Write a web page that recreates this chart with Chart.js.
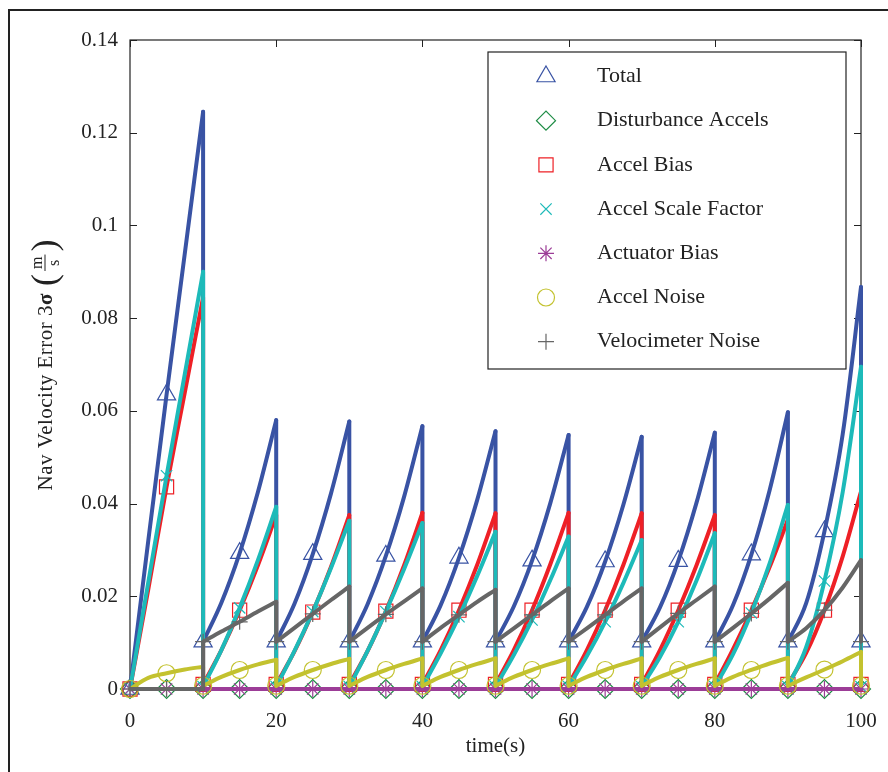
<!DOCTYPE html>
<html>
<head>
<meta charset="utf-8">
<script src="https://cdn.jsdelivr.net/npm/chart.js@4.4.1/dist/chart.umd.min.js"></script>
<style>
    html, body { margin: 0; padding: 0; background: #fff; }
</style>
</head>
<body>
<canvas id="navChart" width="888" height="772"></canvas>
<script>
// Each series is a sawtooth that resets every 10 s.
// One row per interval, values read at offsets 0, 2.5, 5, 7.5, 10 s into it.
const segStarts = [0, 10, 20, 30, 40, 50, 60, 70, 80, 90];
const offsets = [0, 2.5, 5, 7.5, 10];
const xTicks = [0, 20, 40, 60, 80, 100];
const yTicks = [0, 0.02, 0.04, 0.06, 0.08, 0.1, 0.12, 0.14];

const totalSegs = [
    [0, 0.032, 0.0635, 0.094, 0.1245],
    [0.0102, 0.0186, 0.0293, 0.0425, 0.0580],
    [0.0102, 0.0184, 0.0291, 0.0422, 0.0577],
    [0.0102, 0.0183, 0.0287, 0.0415, 0.0567],
    [0.0102, 0.0181, 0.0283, 0.0408, 0.0556],
    [0.0102, 0.0178, 0.0277, 0.0401, 0.0548],
    [0.0102, 0.0177, 0.0275, 0.0398, 0.0544],
    [0.0102, 0.0176, 0.0276, 0.0402, 0.0553],
    [0.0102, 0.0181, 0.0290, 0.0429, 0.0597],
    [0.0102, 0.0185, 0.0340, 0.0550, 0.0867]
];
const disturbanceSegs = [
    [0, 0, 0, 0, 0], [0, 0, 0, 0, 0], [0, 0, 0, 0, 0], [0, 0, 0, 0, 0], [0, 0, 0, 0, 0],
    [0, 0, 0, 0, 0], [0, 0, 0, 0, 0], [0, 0, 0, 0, 0], [0, 0, 0, 0, 0], [0, 0, 0, 0, 0]
];
const biasSegs = [
    [0, 0.0215, 0.0436, 0.064, 0.0845],
    [0.001, 0.0084, 0.0170, 0.0267, 0.0375],
    [0.001, 0.0081, 0.0166, 0.0264, 0.0375],
    [0.001, 0.0082, 0.0168, 0.0267, 0.0380],
    [0.001, 0.0084, 0.0170, 0.0268, 0.0379],
    [0.001, 0.0084, 0.0170, 0.0269, 0.0380],
    [0.001, 0.0084, 0.0170, 0.0268, 0.0379],
    [0.001, 0.0084, 0.0170, 0.0267, 0.0375],
    [0.001, 0.0086, 0.0170, 0.0263, 0.0365],
    [0.001, 0.0078, 0.0170, 0.0286, 0.0426]
];
const scaleSegs = [
    [0, 0.023, 0.046, 0.068, 0.090],
    [0.0005, 0.0084, 0.0175, 0.0278, 0.0393],
    [0.0005, 0.0082, 0.0167, 0.0261, 0.0363],
    [0.0005, 0.0082, 0.0167, 0.0259, 0.0358],
    [0.0005, 0.0077, 0.0156, 0.0244, 0.0339],
    [0.0005, 0.0073, 0.0149, 0.0235, 0.0329],
    [0.0005, 0.0071, 0.0145, 0.0229, 0.0321],
    [0.0005, 0.0069, 0.0145, 0.0234, 0.0336],
    [0.0005, 0.0075, 0.0164, 0.0271, 0.0397],
    [0.0005, 0.0090, 0.0233, 0.0425, 0.0695]
];
const actuatorSegs = [
    [0, 0, 0, 0, 0], [0, 0, 0, 0, 0], [0, 0, 0, 0, 0], [0, 0, 0, 0, 0], [0, 0, 0, 0, 0],
    [0, 0, 0, 0, 0], [0, 0, 0, 0, 0], [0, 0, 0, 0, 0], [0, 0, 0, 0, 0], [0, 0, 0, 0, 0]
];
const noiseSegs = [
    [0, 0.0024, 0.0034, 0.0042, 0.0048],
    [0.0007, 0.0026, 0.0041, 0.0053, 0.0063],
    [0.0007, 0.0026, 0.0041, 0.0054, 0.0065],
    [0.0007, 0.0026, 0.0041, 0.0054, 0.0066],
    [0.0007, 0.0026, 0.0041, 0.0054, 0.0066],
    [0.0007, 0.0026, 0.0041, 0.0054, 0.0066],
    [0.0007, 0.0026, 0.0041, 0.0054, 0.0066],
    [0.0007, 0.0026, 0.0041, 0.0054, 0.0066],
    [0.0007, 0.0026, 0.0041, 0.0055, 0.0067],
    [0.0007, 0.0025, 0.0042, 0.0060, 0.0080]
];
const veloSegs = [
    [0, 0, 0, 0, 0],
    [0.0102, 0.0124, 0.0145, 0.0167, 0.0188],
    [0.0102, 0.0132, 0.0162, 0.0192, 0.0221],
    [0.0102, 0.0132, 0.0161, 0.0189, 0.0217],
    [0.0102, 0.0132, 0.0160, 0.0188, 0.0214],
    [0.0102, 0.0131, 0.0160, 0.0189, 0.0217],
    [0.0102, 0.0131, 0.0160, 0.0189, 0.0217],
    [0.0102, 0.0133, 0.0163, 0.0192, 0.0221],
    [0.0102, 0.0132, 0.0163, 0.0195, 0.0229],
    [0.0102, 0.0131, 0.0170, 0.0219, 0.0278]
];
// value each series drops back to at t = 100
const endValues = [0.0102, 0, 0.001, 0.0005, 0, 0.0007, 0.0102];

const labels = ['Total', 'Disturbance Accels', 'Accel Bias', 'Accel Scale Factor',
    'Actuator Bias', 'Accel Noise', 'Velocimeter Noise'];
const colors = ['#3953a4', '#1e8c45', '#ee2026', '#1dbab9', '#9c3d97', '#c3c22f', '#666666'];
const pointStyles = ['triangle', 'rectRot', 'rect', 'crossRot', 'star', 'circle', 'cross'];
const pointSizes = [10.5, 9.5, 10, 8, 8, 8.5, 8];
const allSegs = [totalSegs, disturbanceSegs, biasSegs, scaleSegs, actuatorSegs, noiseSegs, veloSegs];

const FONT = '"Liberation Serif", "Times New Roman", serif';
const INK = '#222';

function markerData(segs, endVal) {
    const pts = [];
    segs.forEach((row, k) => {
        pts.push({ x: segStarts[k], y: row[0] });
        pts.push({ x: segStarts[k] + 5, y: row[2] });
    });
    pts.push({ x: 100, y: endVal });
    return pts;
}

// vertical drop at the end of every interval
function dropData(segs, endVal) {
    const pts = [];
    segs.forEach((row, k) => {
        const t = segStarts[k] + 10;
        const next = k + 1 < segs.length ? segs[k + 1][0] : endVal;
        pts.push({ x: t, y: row[row.length - 1] }, { x: t, y: next }, { x: t, y: null });
    });
    return pts;
}

const lineStyle = (i) => ({
    borderColor: colors[i],
    borderWidth: 4,
    borderJoinStyle: 'round',
    borderCapStyle: 'round',
    pointRadius: 0,
    fill: false,
    clip: false,
    order: 40 - i * 2,
    isMarker: false
});

const datasets = [];
labels.forEach((label, i) => {
    // each interval is its own smooth curve
    allSegs[i].forEach((row, k) => {
        datasets.push(Object.assign({
            label: label,
            data: row.map((v, j) => ({ x: segStarts[k] + offsets[j], y: v })),
            cubicInterpolationMode: 'monotone'
        }, lineStyle(i)));
    });
    datasets.push(Object.assign({
        label: label,
        data: dropData(allSegs[i], endValues[i]),
        tension: 0,
        spanGaps: false
    }, lineStyle(i)));
    datasets.push({
        label: label,
        data: markerData(allSegs[i], endValues[i]),
        showLine: false,
        pointStyle: pointStyles[i],
        pointRadius: pointSizes[i],
        pointBorderColor: colors[i],
        pointBackgroundColor: 'rgba(0,0,0,0)',
        pointBorderWidth: 1.2,
        clip: false,
        order: 39 - i * 2,
        isMarker: true
    });
});

// axes box with inward ticks, plus outer figure frame
const framePlugin = {
    id: 'frame',
    beforeDatasetsDraw(chart) {
        const { ctx, chartArea: a, scales } = chart;
        ctx.save();
        ctx.strokeStyle = INK;
        ctx.lineWidth = 1.2;
        ctx.strokeRect(a.left, a.top, a.right - a.left, a.bottom - a.top);
        ctx.lineWidth = 1;
        ctx.beginPath();
        xTicks.forEach(v => {
            const px = Math.round(scales.x.getPixelForValue(v)) + 0.5;
            ctx.moveTo(px, a.bottom); ctx.lineTo(px, a.bottom - 7);
            ctx.moveTo(px, a.top); ctx.lineTo(px, a.top + 7);
        });
        yTicks.forEach(v => {
            const py = Math.round(scales.y.getPixelForValue(v)) + 0.5;
            ctx.moveTo(a.left, py); ctx.lineTo(a.left + 7, py);
            ctx.moveTo(a.right, py); ctx.lineTo(a.right - 7, py);
        });
        ctx.stroke();
        ctx.lineWidth = 2;
        ctx.beginPath();
        ctx.moveTo(9, 772); ctx.lineTo(9, 10); ctx.lineTo(888, 10);
        ctx.stroke();
        ctx.restore();
    },
    afterDraw(chart) {
        const { ctx, chartArea: a } = chart;
        ctx.save();
        ctx.fillStyle = INK;
        ctx.font = '21px ' + FONT;
        ctx.textAlign = 'center';
        ctx.textBaseline = 'alphabetic';
        ctx.fillText('time(s)', (a.left + a.right) / 2, 752);
        ctx.restore();
        drawYTitle(ctx);
    }
};

function drawYTitle(ctx) {
    ctx.save();
    ctx.translate(52, 365);
    ctx.rotate(-Math.PI / 2);
    ctx.fillStyle = INK;
    ctx.textAlign = 'left';
    ctx.textBaseline = 'alphabetic';
    ctx.letterSpacing = '0.5px';
    const main = 'Nav Velocity Error 3';
    ctx.font = '21px ' + FONT;
    const w1 = ctx.measureText(main).width;
    ctx.font = 'bold 21px ' + FONT;
    const w2 = ctx.measureText('σ').width;
    ctx.letterSpacing = '0px';
    ctx.font = '36px ' + FONT;
    const wp = ctx.measureText('(').width;
    ctx.font = '16px ' + FONT;
    const wf = ctx.measureText('m').width + 10;
    const gap = 7;
    const total = w1 + w2 + gap + wp + wf + wp;
    let x = -total / 2;
    ctx.letterSpacing = '0.5px';
    ctx.font = '21px ' + FONT;
    ctx.fillText(main, x, 0);
    x += w1;
    ctx.font = 'bold 21px ' + FONT;
    ctx.fillText('σ', x, 0);
    ctx.letterSpacing = '0px';
    x += w2 + gap;
    ctx.font = '36px ' + FONT;
    ctx.fillText('(', x, 4);
    x += wp;
    ctx.font = '16px ' + FONT;
    ctx.textAlign = 'center';
    ctx.fillText('m', x + wf / 2, -10);
    ctx.fillText('s', x + wf / 2, 7);
    ctx.fillRect(x + 3, -7.5, wf - 6, 1);
    ctx.textAlign = 'left';
    x += wf;
    ctx.font = '36px ' + FONT;
    ctx.fillText(')', x, 4);
    ctx.restore();
}

// boxed legend inside the plot, top right
const legendPlugin = {
    id: 'boxLegend',
    afterDraw(chart) {
        const ctx = chart.ctx;
        const box = { left: 488, top: 52, right: 846, bottom: 369 };
        ctx.save();
        ctx.fillStyle = '#fff';
        ctx.fillRect(box.left, box.top, box.right - box.left, box.bottom - box.top);
        ctx.strokeStyle = INK;
        ctx.lineWidth = 1.2;
        ctx.strokeRect(box.left, box.top, box.right - box.left, box.bottom - box.top);
        const markers = chart.data.datasets.filter(d => d.isMarker);
        markers.forEach((d, i) => {
            const y = 76.5 + i * 44.2;
            ctx.strokeStyle = d.pointBorderColor;
            ctx.fillStyle = 'rgba(0,0,0,0)';
            ctx.lineWidth = 1.2;
            Chart.helpers.drawPoint(ctx, {
                pointStyle: d.pointStyle, radius: d.pointRadius, rotation: 0, borderWidth: 1.2
            }, 546, y);
            ctx.fillStyle = INK;
            ctx.font = '22px ' + FONT;
            ctx.textAlign = 'left';
            ctx.textBaseline = 'middle';
            ctx.fillText(d.label, 597, y);
        });
        ctx.restore();
    }
};

const chart = new Chart(document.getElementById('navChart'), {
    type: 'line',
    data: { datasets: datasets },
    options: {
        responsive: false,
        animation: false,
        events: [],
        layout: { padding: { left: 0, right: 27, top: 40, bottom: 0 } },
        plugins: {
            legend: { display: false },
            tooltip: { enabled: false }
        },
        scales: {
            x: {
                type: 'linear',
                min: 0,
                max: 100,
                afterBuildTicks: (s) => { s.ticks = xTicks.map(v => ({ value: v })); },
                afterFit: (s) => { s.height = 83; s.paddingLeft = 0; s.paddingRight = 0; },
                grid: { display: false, drawTicks: false },
                border: { display: false },
                ticks: { padding: 20, color: INK, maxRotation: 0, font: { family: FONT, size: 21 } }
            },
            y: {
                type: 'linear',
                min: 0,
                max: 0.14,
                afterBuildTicks: (s) => { s.ticks = yTicks.map(v => ({ value: v })); },
                afterFit: (s) => { s.width = 130; s.paddingTop = 0; s.paddingBottom = 0; },
                grid: { display: false, drawTicks: false },
                border: { display: false },
                ticks: {
                    padding: 12,
                    color: INK,
                    font: { family: FONT, size: 21 },
                    callback: (v) => String(parseFloat(Number(v).toFixed(4)))
                }
            }
        }
    },
    plugins: [framePlugin, legendPlugin]
});
</script>
</body>
</html>
